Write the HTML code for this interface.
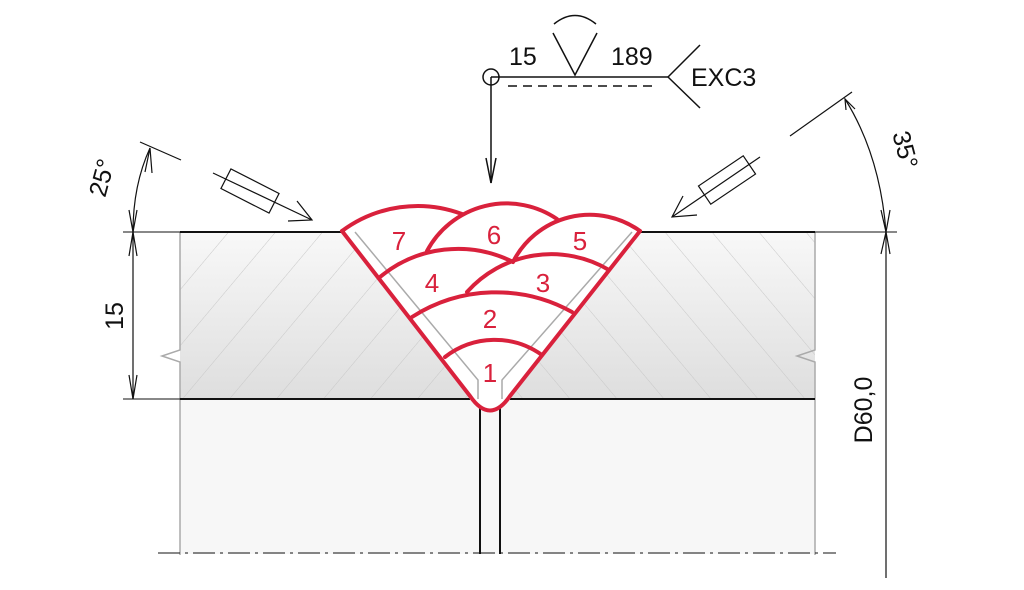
<!DOCTYPE html>
<html><head><meta charset="utf-8"><style>body{margin:0;background:#fff}svg{display:block}text{font-family:"Liberation Sans","DejaVu Sans",sans-serif}</style></head><body>
<svg width="1024" height="590" viewBox="0 0 1024 590" xmlns="http://www.w3.org/2000/svg">
<defs>
<linearGradient id="g" x1="0" y1="0" x2="0" y2="1"><stop offset="0" stop-color="#f8f8f8"/><stop offset="1" stop-color="#dedede"/></linearGradient>
<pattern id="hl" width="36" height="36" patternUnits="userSpaceOnUse" patternTransform="rotate(40)"><line x1="0" y1="0" x2="0" y2="36" stroke="#c8c8c8" stroke-width="1"/></pattern>
<pattern id="hr" width="36" height="36" patternUnits="userSpaceOnUse" patternTransform="rotate(-40)"><line x1="0" y1="0" x2="0" y2="36" stroke="#c8c8c8" stroke-width="1"/></pattern>
</defs>
<rect x="180" y="399" width="635" height="155" fill="#f7f7f7"/>
<polygon points="180,232 355,232 478,380 478,399 180,399" fill="url(#g)"/>
<polygon points="180,232 355,232 478,380 478,399 180,399" fill="url(#hl)"/>
<polygon points="815,232 632,232 502,380 502,399 815,399" fill="url(#g)"/>
<polygon points="815,232 632,232 502,380 502,399 815,399" fill="url(#hr)"/>
<g stroke="#aaa" stroke-width="1.5" fill="none">
<polyline points="180,232 180,350 162,356 180,362 180,555"/>
<polyline points="815,232 815,350 797,356 815,362 815,555"/>
</g>
<path d="M342,231 L470,396 Q490,425 510,396 L640,231 Z" fill="#fff"/>
<g stroke="#aaa" stroke-width="1.5" fill="none">
<polyline points="355,232 478,380 478,399"/>
<polyline points="632,232 502,380 502,399"/>
</g>
<g stroke="#111" fill="none">
<line x1="180" y1="232" x2="345" y2="232" stroke-width="2"/>
<line x1="640" y1="232" x2="815" y2="232" stroke-width="2"/>
<line x1="123" y1="232" x2="180" y2="232" stroke-width="1"/>
<line x1="815" y1="232" x2="897" y2="232" stroke-width="1"/>
<line x1="180" y1="399" x2="470" y2="399" stroke-width="2"/>
<line x1="510" y1="399" x2="815" y2="399" stroke-width="2"/>
<line x1="123" y1="399" x2="180" y2="399" stroke-width="1"/>
<line x1="480" y1="408" x2="480" y2="554" stroke-width="2"/>
<line x1="500" y1="408" x2="500" y2="554" stroke-width="2"/>
<line x1="158" y1="553" x2="836" y2="553" stroke-width="1" stroke-dasharray="22,5,3,5"/>
</g>
<g stroke="#d9213c" stroke-width="4" fill="none" stroke-linejoin="round" stroke-linecap="round">
<path d="M342,231 L470,396 Q490,425 510,396 L640,231"/>
<path d="M342,231 A127,127 0 0 1 462,214"/>
<path d="M427,251 A90,90 0 0 1 557,219"/>
<path d="M513,262 A86,86 0 0 1 640,231"/>
<path d="M380,277 A122,122 0 0 1 513,262"/>
<path d="M467,292 A113,113 0 0 1 609,270"/>
<path d="M412,317 A156,156 0 0 1 572,312"/>
<path d="M445,357 A81,81 0 0 1 542,355"/>
</g>
<g fill="#d9213c" font-size="26" text-anchor="middle">
<text x="399" y="250">7</text><text x="494" y="244">6</text><text x="580" y="250">5</text>
<text x="432" y="292">4</text><text x="543" y="292">3</text><text x="490" y="328">2</text><text x="490" y="382">1</text>
</g>
<g stroke="#111" stroke-width="1.5" fill="none">
<circle cx="491" cy="77" r="8"/>
<line x1="491" y1="77" x2="668" y2="77"/>
<line x1="508" y1="86" x2="655" y2="86" stroke-dasharray="9,6"/>
<polyline points="553,33 575,75 597,33"/>
<path d="M554,24 Q575,7 596,24"/>
<line x1="668" y1="77" x2="700" y2="45"/><line x1="668" y1="77" x2="700" y2="108"/>
<line x1="491" y1="77" x2="491" y2="183"/>
<polyline points="486,158 491,183 496,158"/>
</g>
<g fill="#111" font-size="25">
<text x="509" y="65">15</text><text x="611" y="65">189</text><text x="691" y="86">EXC3</text>
</g>
<g stroke="#111" stroke-width="1.2" fill="none">
<line x1="133" y1="232" x2="133" y2="399"/>
<polyline points="129,256 133,232 137,256"/><polyline points="129,375 133,399 137,375"/>
<line x1="140" y1="142" x2="181" y2="160"/>
<path d="M133,232 Q133,185 150,148"/>
<polyline points="129,210 133,232 137,210"/>
<polyline points="145,172 150,148 152,173"/>
<line x1="213" y1="173" x2="312" y2="220"/>
<polyline points="297,201 312,220 288,221"/>
<g transform="translate(250,191) rotate(27)"><rect x="-27" y="-11" width="54" height="22"/></g>
<line x1="790" y1="136" x2="852" y2="92"/>
<path d="M845,99 Q880,155 886,232"/>
<polyline points="846,110 845,99 855,109" />
<polyline points="881,210 886,232 890,210"/>
<line x1="886" y1="232" x2="886" y2="578"/>
<polyline points="881,254 886,232 890,254"/>
<line x1="760" y1="157" x2="672" y2="217"/>
<polyline points="683,196 672,217 697,215"/>
<g transform="translate(727,180) rotate(-34)"><rect x="-27" y="-11" width="54" height="22"/></g>
</g>
<g fill="#111" font-size="25" text-anchor="middle">
<text transform="translate(123,316) rotate(-90)">15</text>
<text transform="translate(110,180) rotate(-75)">25°</text>
<text transform="translate(897,152) rotate(75)">35°</text>
<text transform="translate(872,410) rotate(-90)">D60,0</text>
</g>
</svg>
</body></html>
